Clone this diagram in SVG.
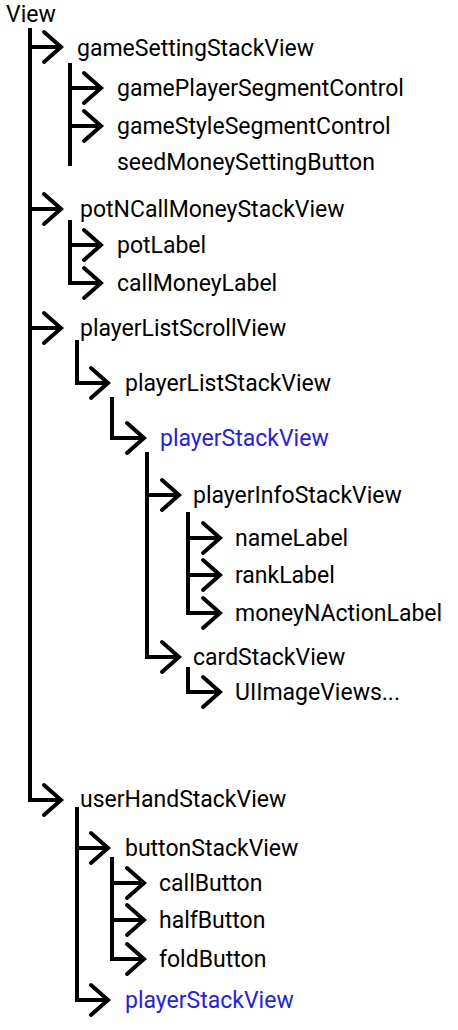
<svg xmlns="http://www.w3.org/2000/svg" width="458" height="1030" viewBox="0 0 458 1030">
<style>
text{font-family:Roboto,"Liberation Sans",sans-serif;font-size:23px;fill:#000}
text.b{fill:#2222e8}
.c path{fill:none;stroke:#000;stroke-width:4;stroke-linejoin:miter}
</style>
<defs>
<marker id="ah" markerUnits="userSpaceOnUse" markerWidth="40" markerHeight="40" viewBox="-20 -20 40 40" refX="0" refY="0" orient="auto" overflow="visible">
<path d="M-17,-15 L0,0 L-17,15" fill="none" stroke="#000" stroke-width="4" stroke-linecap="round" stroke-linejoin="miter"/>
</marker>
</defs>
<g class="c" id="connectors">
<path d="M30,28 V47 H61" marker-end="url(#ah)"/>
<path d="M30,28 V209 H61" marker-end="url(#ah)"/>
<path d="M30,28 V328 H61" marker-end="url(#ah)"/>
<path d="M30,28 V800 H61" marker-end="url(#ah)"/>
<path d="M70,63 V166"/>
<path d="M70,88 H101" marker-end="url(#ah)"/>
<path d="M70,126 H101" marker-end="url(#ah)"/>
<path d="M70,220 V245 H101" marker-end="url(#ah)"/>
<path d="M70,220 V283 H101" marker-end="url(#ah)"/>
<path d="M77,340 V383 H108" marker-end="url(#ah)"/>
<path d="M112,397 V438 H144" marker-end="url(#ah)"/>
<path d="M147,452 V495 H179" marker-end="url(#ah)"/>
<path d="M147,452 V657 H179" marker-end="url(#ah)"/>
<path d="M188,512 V538 H220" marker-end="url(#ah)"/>
<path d="M188,512 V575 H220" marker-end="url(#ah)"/>
<path d="M188,512 V613 H220" marker-end="url(#ah)"/>
<path d="M188,667 V692 H220" marker-end="url(#ah)"/>
<path d="M77,807 V848 H108" marker-end="url(#ah)"/>
<path d="M77,807 V1000 H108" marker-end="url(#ah)"/>
<path d="M112,857 V883 H144" marker-end="url(#ah)"/>
<path d="M112,857 V920 H144" marker-end="url(#ah)"/>
<path d="M112,857 V959 H144" marker-end="url(#ah)"/>
</g>
<g id="n-view"><text x="6" y="22">View</text></g>
<g id="n-gameSettingStackView"><text x="77" y="56">gameSettingStackView</text></g>
<g id="n-gamePlayerSegmentControl"><text x="117" y="96">gamePlayerSegmentControl</text></g>
<g id="n-gameStyleSegmentControl"><text x="117" y="134">gameStyleSegmentControl</text></g>
<g id="n-seedMoneySettingButton"><text x="117" y="170">seedMoneySettingButton</text></g>
<g id="n-potNCallMoneyStackView"><text x="80" y="217">potNCallMoneyStackView</text></g>
<g id="n-potLabel"><text x="117" y="253">potLabel</text></g>
<g id="n-callMoneyLabel"><text x="117" y="291">callMoneyLabel</text></g>
<g id="n-playerListScrollView"><text x="80" y="336">playerListScrollView</text></g>
<g id="n-playerListStackView"><text x="125" y="391">playerListStackView</text></g>
<g id="n-playerStackView1"><text class="b" x="160" y="446">playerStackView</text></g>
<g id="n-playerInfoStackView"><text x="193" y="503">playerInfoStackView</text></g>
<g id="n-nameLabel"><text x="235" y="546">nameLabel</text></g>
<g id="n-rankLabel"><text x="235" y="583">rankLabel</text></g>
<g id="n-moneyNActionLabel"><text x="235" y="621">moneyNActionLabel</text></g>
<g id="n-cardStackView"><text x="193" y="665">cardStackView</text></g>
<g id="n-UIImageViews"><text x="235" y="700">UIImageViews...</text></g>
<g id="n-userHandStackView"><text x="80" y="807">userHandStackView</text></g>
<g id="n-buttonStackView"><text x="125" y="856">buttonStackView</text></g>
<g id="n-callButton"><text x="159" y="891">callButton</text></g>
<g id="n-halfButton"><text x="159" y="928">halfButton</text></g>
<g id="n-foldButton"><text x="159" y="967">foldButton</text></g>
<g id="n-playerStackView2"><text class="b" x="125" y="1008">playerStackView</text></g>
</svg>
